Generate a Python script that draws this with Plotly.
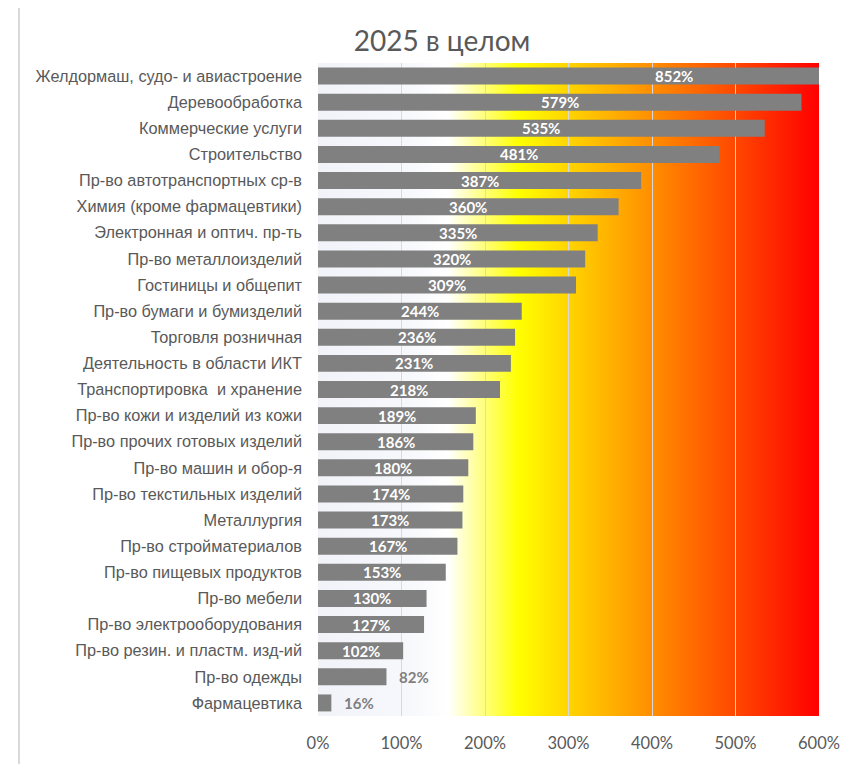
import base64
import plotly.graph_objects as go

title_text = "2025 в целом"
categories = [
    "Желдормаш, судо- и авиастроение",
    "Деревообработка",
    "Коммерческие услуги",
    "Строительство",
    "Пр-во автотранспортных ср-в",
    "Химия (кроме фармацевтики)",
    "Электронная и оптич. пр-ть",
    "Пр-во металлоизделий",
    "Гостиницы и общепит",
    "Пр-во бумаги и бумизделий",
    "Торговля розничная",
    "Деятельность в области ИКТ",
    "Транспортировка  и хранение",
    "Пр-во кожи и изделий из кожи",
    "Пр-во прочих готовых изделий",
    "Пр-во машин и обор-я",
    "Пр-во текстильных изделий",
    "Металлургия",
    "Пр-во стройматериалов",
    "Пр-во пищевых продуктов",
    "Пр-во мебели",
    "Пр-во электрооборудования",
    "Пр-во резин. и пластм. изд-ий",
    "Пр-во одежды",
    "Фармацевтика",
]
values = [852, 579, 535, 481, 387, 360, 335, 320, 309, 244, 236, 231, 218,
          189, 186, 180, 174, 173, 167, 153, 130, 127, 102, 82, 16]
x_ticks = [0, 100, 200, 300, 400, 500, 600]
x_ticklabels = ["0%", "100%", "200%", "300%", "400%", "500%", "600%"]

# background gradient (0% .. 600%)
grad_stops = [(0.0, "#f1f3f9"), (0.18, "#f7f8fc"), (0.26, "#ffffff"),
              (0.40, "#ffff00"), (1.0, "#ff0000")]
stops_svg = "".join(f"<stop offset='{o}' stop-color='{c}'/>" for o, c in grad_stops)
svg = ("<svg xmlns='http://www.w3.org/2000/svg' width='600' height='10' viewBox='0 0 600 10' "
       "preserveAspectRatio='none'><defs><linearGradient id='g' x1='0' x2='1' y1='0' y2='0'>"
       + stops_svg + "</linearGradient></defs><rect x='0' y='0' width='600' height='10' fill='url(#g)'/></svg>")
svg_uri = "data:image/svg+xml;base64," + base64.b64encode(svg.encode()).decode()

# the page body has an 8px margin, so figure coordinates are shifted by -8
OFF = 8
W, H = 860, 764
L, R, T, B = 318 - OFF, W - (819 - OFF), 63 - OFF, H - (716 - OFF)
pw, ph = W - L - R, H - T - B

fig = go.Figure()
fig.add_trace(go.Bar(
    y=categories, x=values, orientation="h",
    marker=dict(color="#808080", line=dict(width=0)),
    hoverinfo="x+y", showlegend=False,
))

annotations = []
for c, v in zip(categories, values):
    if v >= 100:
        annotations.append(dict(x=v / 2, y=c, xref="x", yref="y", text=f"{v}%",
                                showarrow=False, xanchor="center", yanchor="middle",
                                font=dict(family="Lato, Open Sans, sans-serif", size=15,
                                          color="#ffffff", weight="bold")))
    else:
        annotations.append(dict(x=v, y=c, xref="x", yref="y", text=f"{v}%",
                                showarrow=False, xanchor="left", yanchor="middle", xshift=11,
                                font=dict(family="Lato, Open Sans, sans-serif", size=15,
                                          color="#7f7f7f", weight="bold")))


def px_x(p):
    return (p - OFF - L) / pw


def px_y(p):
    return (H - B - (p - OFF)) / ph


shapes = [
    dict(type="line", xref="paper", yref="paper", x0=px_x(19), x1=px_x(19),
         y0=px_y(4), y1=px_y(H + 30), line=dict(color="#d9d9d9", width=2), layer="above"),
    dict(type="line", xref="paper", yref="paper", x0=px_x(18), x1=px_x(W + 30),
         y0=px_y(5), y1=px_y(5), line=dict(color="#d9d9d9", width=2), layer="above"),
]

fig.update_layout(
    width=W, height=H,
    margin=dict(l=L, r=R, t=T, b=B, pad=0),
    paper_bgcolor="#ffffff", plot_bgcolor="#ffffff",
    title=dict(text=title_text, x=(442 - OFF) / W, xanchor="center", y=1 - (41 - OFF) / H,
               yanchor="middle",
               font=dict(family="Lato, Open Sans, sans-serif", size=28, color="#595959")),
    bargap=0.35,
    xaxis=dict(range=[0, 600], tickvals=x_ticks, ticktext=x_ticklabels,
               showgrid=True, gridcolor="#d9d9d9", gridwidth=1, zeroline=False,
               showline=False, ticks="", ticklabelstandoff=15,
               tickfont=dict(family="Lato, Open Sans, sans-serif", size=16.5, color="#595959"),
               fixedrange=True),
    yaxis=dict(categoryorder="array", categoryarray=categories, autorange="reversed",
               showgrid=False, zeroline=False, showline=False, ticks="", ticklabelstandoff=15,
               tickfont=dict(family="Liberation Sans, Arial, sans-serif", size=16.3, color="#595959"),
               fixedrange=True),
    images=[dict(source=svg_uri, xref="x", yref="paper", x=0, y=1, sizex=600, sizey=1,
                 xanchor="left", yanchor="top", sizing="stretch", layer="below")],
    annotations=annotations,
    shapes=shapes,
)

fig.write_html("out.html")
